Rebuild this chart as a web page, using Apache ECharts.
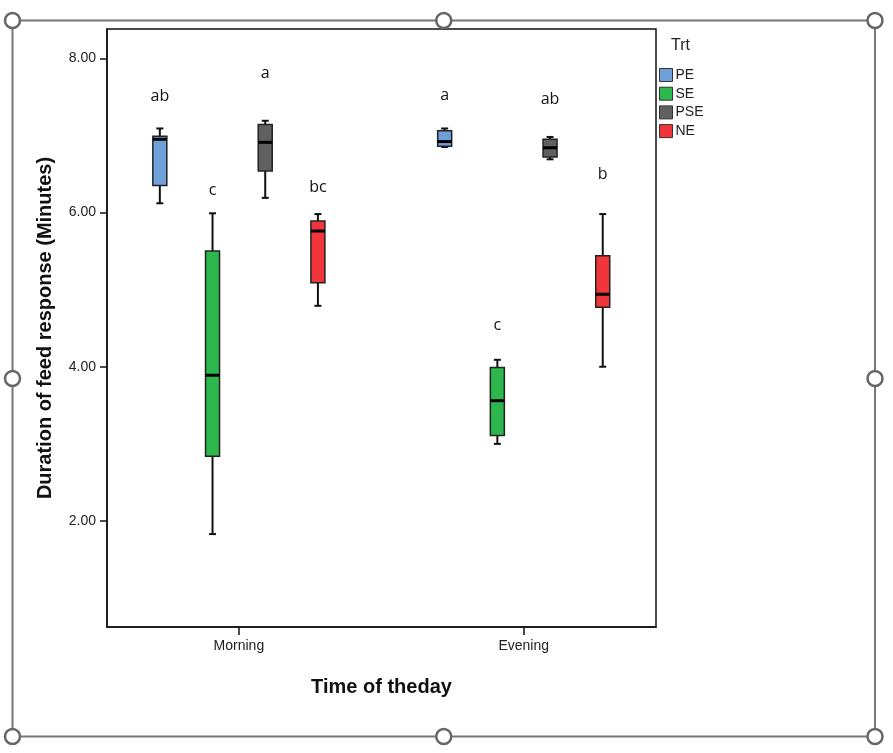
<!DOCTYPE html>
<html>
<head>
<meta charset="utf-8">
<script src="https://cdn.jsdelivr.net/npm/echarts@6/dist/echarts.min.js"></script>
<style>
html,body{margin:0;padding:0;background:#fff;}
#chart{width:893px;height:753px;}
</style>
</head>
<body>
<div id="chart"></div>
<script>
// ---- data ----
const categories = ['Morning', 'Evening'];
const treatments = ['PE', 'SE', 'PSE', 'NE'];
// [min, Q1, median, Q3, max] for Morning, Evening
const PE  = [[6.12, 6.35, 6.95, 6.99, 7.09], [6.85, 6.86, 6.92, 7.06, 7.09]];
const SE  = [[1.83, 2.84, 3.89, 5.50, 5.99], [3.00, 3.11, 3.56, 3.99, 4.09]];
const PSE = [[6.19, 6.54, 6.91, 7.14, 7.19], [6.69, 6.72, 6.84, 6.95, 6.98]];
const NE  = [[4.79, 5.09, 5.76, 5.89, 5.98], [4.00, 4.77, 4.94, 5.44, 5.98]];
// significance letters (order PE, SE, PSE, NE) and their heights
const lettersMorning = ['ab', 'c', 'a', 'bc'];
const lettersEvening = ['a', 'c', 'ab', 'b'];
const letterYMorning = [7.50, 6.28, 7.81, 6.33];
const letterYEvening = [7.52, 4.53, 7.47, 6.49];
const yTicks = [2, 4, 6, 8];
const yAxisTitle = 'Duration of feed response (Minutes)';
const xAxisTitle = 'Time of theday';
const legendTitle = 'Trt';

// ---- styles / layout ----
const colors = ['#70a0d8', '#2db84d', '#606060', '#f0353b'];
const boxSpacing = 0.185;   // in x-axis units
const boxHalf = 7, capHalf = 3.5;
const seriesValues = [PE, SE, PSE, NE];
const letterText = [lettersMorning, lettersEvening];
const letterY = [letterYMorning, letterYEvening];

function xPos(catIdx, tIdx) { return catIdx + 1 + (tIdx - 1.5) * boxSpacing; }

function renderBox(params, api) {
  const x = api.value(0);
  const c = k => api.coord([x, api.value(k)]);
  const pMin = c(1), pQ1 = c(2), pMed = c(3), pQ3 = c(4), pMax = c(5);
  const cx = pMin[0];
  const fill = api.visual('color');
  const ln = { stroke: '#111', lineWidth: 2 };
  return {
    type: 'group',
    children: [
      { type: 'line', shape: { x1: cx, y1: pMax[1], x2: cx, y2: pQ3[1] }, style: ln },
      { type: 'line', shape: { x1: cx, y1: pQ1[1], x2: cx, y2: pMin[1] }, style: ln },
      { type: 'line', shape: { x1: cx - capHalf, y1: pMax[1], x2: cx + capHalf, y2: pMax[1] }, style: ln },
      { type: 'line', shape: { x1: cx - capHalf, y1: pMin[1], x2: cx + capHalf, y2: pMin[1] }, style: ln },
      { type: 'rect', shape: { x: cx - boxHalf, y: pQ3[1], width: boxHalf * 2, height: pQ1[1] - pQ3[1] },
        style: { fill: fill, stroke: '#222', lineWidth: 1.5 } },
      { type: 'line', shape: { x1: cx - boxHalf, y1: pMed[1], x2: cx + boxHalf, y2: pMed[1] },
        style: { stroke: '#000', lineWidth: 3 } }
    ]
  };
}

function renderLetter(params, api) {
  const p = api.coord([api.value(0), api.value(1)]);
  return {
    type: 'text', x: p[0], y: p[1],
    style: { text: api.value(2), fill: '#111', font: '16px "Open Sans", "Noto Sans", sans-serif',
             textAlign: 'center', textVerticalAlign: 'middle' }
  };
}

const series = treatments.map((name, t) => ({
  name: name,
  type: 'custom',
  renderItem: renderBox,
  itemStyle: { color: colors[t] },
  encode: { x: 0, y: [1, 2, 3, 4, 5] },
  data: categories.map((cat, ci) => [xPos(ci, t)].concat(seriesValues[t][ci])),
  z: 3
}));

const letterData = [];
categories.forEach((cat, ci) => {
  treatments.forEach((tr, t) => {
    letterData.push([xPos(ci, t), letterY[ci][t], letterText[ci][t]]);
  });
});
series.push({
  name: 'letters',
  type: 'custom',
  renderItem: renderLetter,
  encode: { x: 0, y: 1 },
  data: letterData,
  silent: true,
  z: 4
});

// frame with selection handles
const fx0 = 12.5, fy0 = 20.5, fx1 = 875, fy1 = 736.5;
const fmx = (fx0 + fx1) / 2, fmy = (fy0 + fy1) / 2;
const handles = [[fx0, fy0], [fmx, fy0], [fx1, fy0], [fx0, fmy], [fx1, fmy], [fx0, fy1], [fmx, fy1], [fx1, fy1]];
const graphic = [
  { type: 'rect', shape: { x: fx0, y: fy0, width: fx1 - fx0, height: fy1 - fy0 },
    style: { fill: 'none', stroke: '#777', lineWidth: 2 }, z: -1 }
].concat(handles.map(h => ({
  type: 'circle', shape: { cx: h[0], cy: h[1], r: 7.5 },
  style: { fill: '#fff', stroke: '#666', lineWidth: 2.5 }, z: 10
}))).concat([{
  type: 'text', left: 671, top: 38,
  style: { text: legendTitle, fill: '#222', font: '16px "Liberation Sans", Arial, sans-serif' }
}]);

const chart = echarts.init(document.getElementById('chart'), null, { renderer: 'canvas' });
chart.setOption({
  animation: false,
  backgroundColor: '#fff',
  graphic: graphic,
  legend: {
    data: treatments.map((n, i) => ({ name: n, icon: 'rect',
      itemStyle: { color: colors[i], borderColor: '#333', borderWidth: 1 } })),
    orient: 'vertical',
    left: 659, top: 68, padding: 0,
    itemWidth: 13, itemHeight: 13, itemGap: 4.7,
    selectedMode: false,
    textStyle: { fontSize: 14, color: '#222', fontFamily: '"Liberation Sans", Arial, sans-serif',
                 padding: [0, 0, 0, -2], lineHeight: 13 }
  },
  grid: {
    left: 107, right: 237, top: 29, bottom: 126,
    show: true, borderColor: '#111', borderWidth: 1.5, backgroundColor: '#fff'
  },
  xAxis: {
    type: 'value', min: 0.537, max: 2.4645,
    name: xAxisTitle, nameLocation: 'middle', nameGap: 50,
    nameTextStyle: { fontSize: 20, fontWeight: 'bold', color: '#111', fontFamily: '"Liberation Sans", Arial, sans-serif' },
    axisLine: { show: true, lineStyle: { color: '#111', width: 1.5 } },
    axisTick: { show: true, length: 8, customValues: [1, 2], lineStyle: { color: '#111', width: 1.5 } },
    axisLabel: { customValues: [1, 2], margin: 12, fontSize: 14, color: '#222',
                 fontFamily: '"Liberation Sans", Arial, sans-serif',
                 formatter: v => categories[Math.round(v) - 1] },
    splitLine: { show: false }
  },
  yAxis: {
    type: 'value', min: 0.625, max: 8.38,
    name: yAxisTitle, nameLocation: 'middle', nameGap: 52, nameRotate: 90,
    nameTextStyle: { fontSize: 20, fontWeight: 'bold', color: '#111', fontFamily: '"Liberation Sans", Arial, sans-serif' },
    axisLine: { show: true, lineStyle: { color: '#111', width: 1.5 } },
    axisTick: { show: true, length: 7, customValues: yTicks, lineStyle: { color: '#111', width: 1.5 } },
    axisLabel: { customValues: yTicks, margin: 11, fontSize: 14, color: '#222',
                 fontFamily: '"Liberation Sans", Arial, sans-serif',
                 formatter: v => v.toFixed(2) },
    splitLine: { show: false }
  },
  series: series
});
</script>
</body>
</html>
